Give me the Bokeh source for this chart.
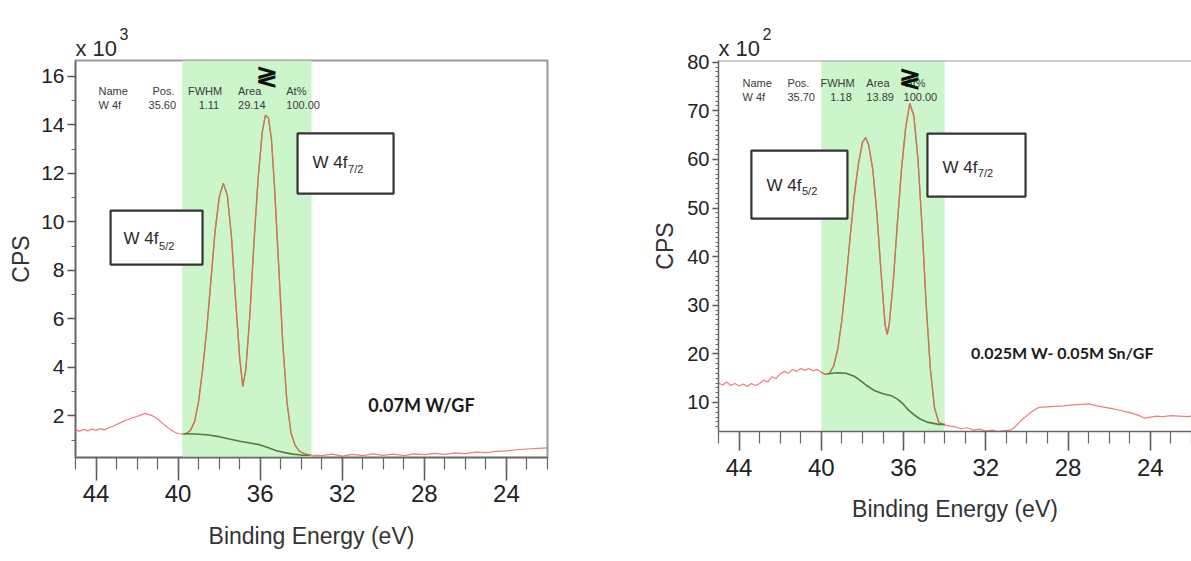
from bokeh.plotting import figure
from bokeh.models import Range1d, FixedTicker, BoxAnnotation, Label, Span, Title
from bokeh.layouts import row
from bokeh.embed import file_html
from bokeh.resources import INLINE

# ---------------- Left panel: 0.07M W/GF  (CPS x 10^3) ----------------
w_be = [45.0, 44.8, 44.6, 44.4, 44.2, 44.0, 43.8, 43.6, 43.4, 43.2, 43.0, 42.8, 42.6, 42.4, 42.2,
        42.0, 41.8, 41.6, 41.4, 41.2, 41.0, 40.8, 40.6, 40.4, 40.2, 40.0, 39.8, 39.6, 39.4, 39.2,
        39.0, 38.8, 38.6, 38.4, 38.2, 38.0, 37.8, 37.6, 37.4, 37.2, 37.0, 36.85, 36.7, 36.5, 36.3,
        36.1, 35.9, 35.75, 35.6, 35.45, 35.3, 35.1, 34.9, 34.7, 34.5, 34.3, 34.1, 33.9, 33.7, 33.5,
        33.0, 32.5, 32.0, 31.5, 31.0, 30.5, 30.0, 29.5, 29.0, 28.5, 28.0, 27.5, 27.0, 26.5, 26.0,
        25.5, 25.0, 24.5, 24.0, 23.5, 23.0, 22.5, 22.0]
w_cps = [1.42, 1.36, 1.44, 1.38, 1.45, 1.40, 1.47, 1.42, 1.50, 1.56, 1.64, 1.72, 1.80, 1.86, 1.93,
         1.97, 2.04, 2.10, 2.05, 1.98, 1.88, 1.72, 1.58, 1.45, 1.34, 1.27, 1.24, 1.27, 1.40, 1.75,
         2.60, 3.95, 5.60, 7.60, 9.60, 11.00, 11.60, 11.10, 9.40, 6.80, 4.40, 3.20, 3.90, 6.20, 9.20,
         11.80, 13.70, 14.40, 14.30, 13.40, 11.40, 8.20, 5.00, 2.60, 1.30, 0.78, 0.55, 0.45, 0.40, 0.38,
         0.36, 0.42, 0.34, 0.41, 0.36, 0.43, 0.37, 0.42, 0.36, 0.43, 0.40, 0.45, 0.41, 0.47, 0.44,
         0.50, 0.48, 0.53, 0.55, 0.60, 0.63, 0.66, 0.68]
w_bg_be = [39.7, 39.2, 38.6, 38.0, 37.5, 37.0, 36.5, 36.0, 35.6, 35.2, 34.8, 34.4, 34.0, 33.6]
w_bg_cps = [1.26, 1.25, 1.22, 1.14, 1.04, 0.95, 0.88, 0.80, 0.68, 0.56, 0.48, 0.42, 0.38, 0.37]
w_region = [39.8, 33.5]
w_y_ticks = [2, 4, 6, 8, 10, 12, 14, 16]
w_y_minor = [1, 3, 5, 7, 9, 11, 13, 15]
w_stats = ["W 4f", "35.60", "1.11", "29.14", "100.00"]
w_sample = "0.07M W/GF"
w_exp = "3"

# ---------------- Right panel: 0.025M W - 0.05M Sn/GF  (CPS x 10^2) ----------------
ws_be = [45.0, 44.8, 44.6, 44.4, 44.2, 44.0, 43.8, 43.6, 43.4, 43.2, 43.0, 42.8, 42.6, 42.4, 42.2,
         42.0, 41.8, 41.6, 41.4, 41.2, 41.0, 40.8, 40.6, 40.4, 40.2, 40.0, 39.8, 39.6, 39.4, 39.2,
         39.0, 38.8, 38.6, 38.4, 38.2, 38.0, 37.85, 37.7, 37.5, 37.3, 37.1, 36.9, 36.8, 36.7, 36.5,
         36.3, 36.1, 35.9, 35.7, 35.5, 35.3, 35.1, 34.9, 34.7, 34.5, 34.3, 34.1, 33.8, 33.5, 33.2,
         32.9, 32.6, 32.3, 32.0, 31.7, 31.4, 31.1, 30.8, 30.6, 30.4, 30.2, 30.0, 29.8, 29.6, 29.4,
         29.0, 28.6, 28.2, 27.8, 27.4, 27.0, 26.6, 26.2, 25.8, 25.4, 25.0, 24.6, 24.3, 24.0, 23.7,
         23.4, 23.0, 22.6, 22.2, 22.0]
ws_cps = [14.0, 13.6, 14.2, 13.5, 13.9, 13.4, 13.8, 13.3, 13.9, 13.5, 13.9, 14.6, 14.2, 15.3, 14.9,
          15.9, 16.4, 16.0, 16.8, 16.4, 17.0, 16.6, 17.0, 16.5, 16.8, 16.2, 15.8, 16.0, 17.5, 21.0,
          27.0, 35.0, 44.0, 52.5, 59.0, 63.5, 64.5, 63.0, 58.0, 49.0, 37.0, 26.0, 24.0, 26.0, 35.0,
          47.0, 58.0, 66.5, 71.5, 69.0, 60.0, 46.0, 30.0, 17.0, 9.0, 6.0, 5.5, 5.2, 5.0, 4.6,
          4.8, 4.3, 4.5, 4.1, 4.3, 4.0, 4.2, 4.3, 4.9, 5.8, 6.6, 7.3, 8.0, 8.6, 9.0,
          9.1, 9.2, 9.3, 9.5, 9.6, 9.7, 9.3, 9.0, 8.7, 8.3, 7.9, 7.4, 6.8, 7.0, 7.2,
          7.1, 7.3, 7.2, 7.1, 7.2]
ws_bg_be = [39.7, 39.2, 38.8, 38.4, 38.1, 37.8, 37.4, 37.0, 36.6, 36.3, 36.0, 35.8, 35.5, 35.2, 34.8, 34.3, 34.0]
ws_bg_cps = [15.9, 16.1, 16.0, 15.4, 14.5, 13.5, 12.4, 11.8, 11.4, 10.7, 9.6, 8.6, 7.5, 6.6, 5.9, 5.5, 5.5]
ws_region = [40.0, 34.0]
ws_y_ticks = [10, 20, 30, 40, 50, 60, 70, 80]
ws_y_minor = list(range(5, 81))
ws_stats = ["W 4f", "35.70", "1.18", "13.89", "100.00"]
ws_sample = "0.025M W- 0.05M Sn/GF"
ws_exp = "2"

x_ticks = [44, 40, 36, 32, 28, 24]
x_minor = list(range(22, 46))
stat_names = ["Name", "Pos.", "FWHM", "Area", "At%"]

RED = "#ec6f74"
ENV = "#c27a52"
BGC = "#557a3c"
BAND = "#ccf5cc"
SANS = "Liberation Sans"


def make_panel(be, cps, bg_be, bg_cps, region, xr, yr, yt, ym, frame, borders, tick_cfg, exp):
    fw, fh = frame
    bl, bt, br, bb = borders
    p = figure(frame_width=fw, frame_height=fh, min_border_left=bl, min_border_top=bt,
               min_border_right=br, min_border_bottom=bb,
               x_range=Range1d(*xr), y_range=Range1d(*yr),
               output_backend="svg", toolbar_location=None, background_fill_color="white",
               border_fill_color="white")
    p.grid.visible = False
    p.add_layout(BoxAnnotation(left=region[0], right=region[1], fill_color=BAND, fill_alpha=1.0,
                               line_color=None, level="underlay"))
    p.line(be, cps, line_color=RED, line_width=1.2, line_alpha=0.9)
    sub_be = [e for e in be if region[1] <= e <= region[0]]
    sub_cps = [c for e, c in zip(be, cps) if region[1] <= e <= region[0]]
    p.line(sub_be, sub_cps, line_color=ENV, line_width=1.4)
    p.line(bg_be, bg_cps, line_color=BGC, line_width=1.6)

    xmaj, xmin, xlab_std, xaxlab_std, xfs = tick_cfg["x"]
    ymaj, ymin_, ylab_std, yaxlab_std, yfs = tick_cfg["y"]
    p.xaxis.ticker = FixedTicker(ticks=x_ticks, minor_ticks=x_minor)
    p.yaxis.ticker = FixedTicker(ticks=yt, minor_ticks=ym)
    p.xaxis.axis_label = "Binding Energy (eV)"
    p.yaxis.axis_label = "CPS"
    for ax in (p.xaxis, p.yaxis):
        ax.axis_line_color = "#666666"
        ax.axis_line_width = 1.5
        ax.major_tick_line_color = "#555555"
        ax.minor_tick_line_color = "#666666"
        ax.major_tick_line_width = 1.5
        ax.minor_tick_line_width = 1.2
        ax.major_tick_in = 0
        ax.minor_tick_in = 0
        ax.major_label_text_color = "#222222"
        ax.major_label_text_font = SANS
        ax.axis_label_text_color = "#333333"
        ax.axis_label_text_font = SANS
        ax.axis_label_text_font_style = "normal"
    p.xaxis.major_tick_out = xmaj
    p.xaxis.minor_tick_out = xmin
    p.xaxis.major_label_standoff = xlab_std
    p.xaxis.axis_label_standoff = xaxlab_std
    p.xaxis.major_label_text_font_size = f"{xfs}px"
    p.xaxis.axis_label_text_font_size = "23px"
    p.yaxis.major_tick_out = ymaj
    p.yaxis.minor_tick_out = ymin_
    p.yaxis.major_label_standoff = ylab_std
    p.yaxis.axis_label_standoff = yaxlab_std
    p.yaxis.major_label_text_font_size = f"{yfs}px"
    p.yaxis.axis_label_text_font_size = "23px"

    # "x 10^n" multiplier above the frame
    p.add_layout(Title(text="x 10", align="left", text_font=SANS, text_font_size="22px",
                       text_font_style="normal", text_color="#2a2a2a", standoff=0), "above")
    p.add_layout(Title(text=exp, align="left", text_font=SANS, text_font_size="16px",
                       text_font_style="normal", text_color="#2a2a2a", offset=44, standoff=-12),
                 "above")
    return p


def add_text(p, x, y, text, size, font=SANS, align="left", baseline="middle", bold=False,
             color="#2a2a2a", angle=0):
    p.add_layout(Label(x=x, y=y, text=text, text_font=font, text_font_size=f"{size}px",
                       text_align=align, text_baseline=baseline, text_color=color,
                       text_font_style="bold" if bold else "normal", angle=angle))


def add_box(p, l, r, t, b):
    p.add_layout(BoxAnnotation(left=l, right=r, top=t, bottom=b, fill_color="white", fill_alpha=1.0,
                               line_color="#333333", line_alpha=1.0, line_width=2.2))


# ---------- left figure ----------
p1 = make_panel(w_be, w_cps, w_bg_be, w_bg_cps, w_region, (45, 22), (0.28, 16.66),
                w_y_ticks, w_y_minor, (472, 397), (75, 60, 13, 100),
                {"x": (23, 12, 4, 18, 24), "y": (8, 4, 3, 4, 21)}, w_exp)
p1.outline_line_color = "#9a9a9a"
p1.outline_line_width = 2

hx1 = [43.88, 41.25, 39.52, 37.08, 34.73]
vx1 = [43.88, 41.44, 39.00, 37.08, 34.73]
for x, t in zip(hx1, stat_names):
    add_text(p1, x, 15.42, t, 11, color="#3a3a3a")
for x, t in zip(vx1, w_stats):
    add_text(p1, x, 14.84, t, 11, color="#3a3a3a")
add_text(p1, 35.69, 16.04, "≷", 26, align="center", bold=True, color="#111111")

add_box(p1, 43.29, 38.81, 10.47, 8.24)
add_text(p1, 42.66, 9.30, "W 4f", 17)
add_text(p1, 40.93, 9.00, "5/2", 11)
add_box(p1, 34.18, 29.50, 13.65, 11.17)
add_text(p1, 33.45, 12.47, "W 4f", 17)
add_text(p1, 31.72, 12.17, "7/2", 11)
add_text(p1, 28.14, 2.43, w_sample, 18, font="Lato", align="center", bold=True, color="#1a1a1a")

# ---------- right figure ----------
p2 = make_panel(ws_be, ws_cps, ws_bg_be, ws_bg_cps, ws_region, (45, 22), (4.03, 80.35),
                ws_y_ticks, ws_y_minor, (473, 371), (158, 60, 0, 126),
                {"x": (19, 12, 8, 17, 24), "y": (6, 3, 3, 6, 20)}, ws_exp)
p2.outline_line_color = None
p2.add_layout(Span(location=80.35, dimension="width", line_color="#9a9a9a", line_width=2))

hx2 = [43.83, 41.65, 40.04, 37.81, 35.91]
vx2 = [43.83, 41.65, 39.56, 37.81, 36.00]
for x, t in zip(hx2, stat_names):
    add_text(p2, x, 75.82, t, 11, color="#3a3a3a")
for x, t in zip(vx2, ws_stats):
    add_text(p2, x, 72.94, t, 11, color="#3a3a3a")
add_text(p2, 35.67, 76.85, "≷", 26, align="center", bold=True, color="#111111")

add_box(p2, 43.40, 38.73, 61.82, 47.82)
add_text(p2, 42.67, 54.70, "W 4f", 17)
add_text(p2, 40.94, 53.50, "5/2", 11)
add_box(p2, 34.84, 30.07, 65.32, 52.35)
add_text(p2, 34.11, 58.40, "W 4f", 17)
add_text(p2, 32.39, 57.20, "7/2", 11)
add_text(p2, 28.28, 20.23, ws_sample, 16, font="Lato", align="center", bold=True, color="#1a1a1a")

layout = row(p1, p2)
open("out.html", "w").write(file_html(layout, INLINE))
